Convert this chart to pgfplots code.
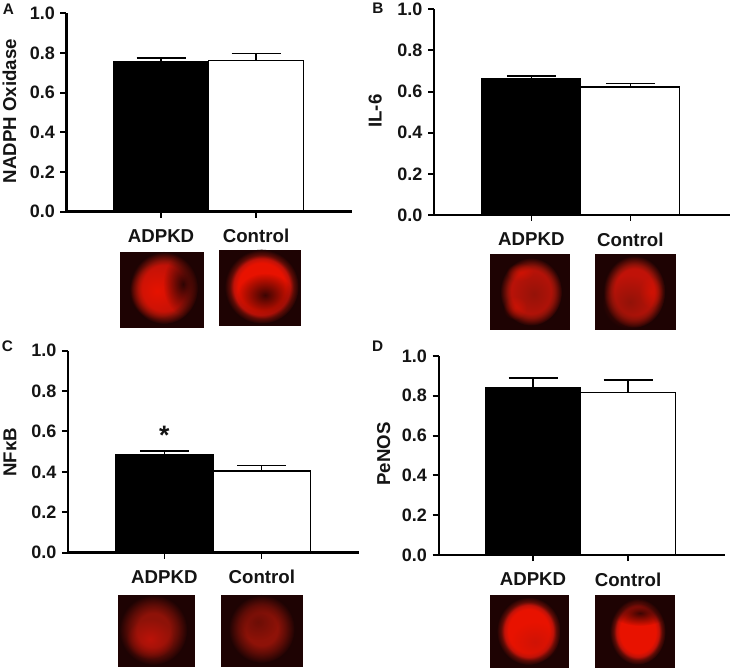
\documentclass[border=0pt]{standalone}
\usepackage{fontspec}
\setmainfont{Liberation Sans}
\usepackage{pgfplots}
\pgfplotsset{compat=1.18}
\usetikzlibrary{fadings}

\newlength\pxu
\setlength\pxu{0.75pt}

\definecolor{cellbg}{HTML}{1E0303}
\definecolor{cellhi}{HTML}{E81200}
\definecolor{cellmid}{HTML}{C01208}
\definecolor{celllow}{HTML}{8E1208}
\definecolor{celldim}{HTML}{5E0C06}
\definecolor{inktext}{HTML}{141414}

\pgfdeclareradialshading{cellbright}{\pgfpointorigin}{color(0bp)=(cellhi); color(16bp)=(cellhi); color(19bp)=(cellmid); color(21.5bp)=(celldim); color(25bp)=(cellbg); color(50bp)=(cellbg)}
\pgfdeclareradialshading{cellmedium}{\pgfpointorigin}{color(0bp)=(cellmid); color(16bp)=(cellmid); color(19bp)=(celllow); color(21.5bp)=(celldim); color(25bp)=(cellbg); color(50bp)=(cellbg)}
\pgfdeclareradialshading{cellfaint}{\pgfpointorigin}{color(0bp)=(celllow); color(12bp)=(celllow); color(18bp)=(celldim); color(25bp)=(cellbg); color(50bp)=(cellbg)}
\tikzfading[name=softblob, inner color=transparent!0, outer color=transparent!100]

% one micrograph: dark square, then a shaded cell
\newcommand{\cellbox}[4]{\fill[cellbg] (#1,#2) rectangle (#3,#4);}
\newcommand{\cellbase}[5]{\shade[shading=#1] (#2,#3) ellipse ({#4} and {#5});}
\newcommand{\blob}[6]{\fill[#1, opacity=#2, path fading=softblob] (#3,#4) ellipse ({#5} and {#6});}

\pgfplotsset{
  panel/.style={
    scale only axis,
    anchor=south west,
    ymin=0, ymax=1,
    ytick={0,0.2,0.4,0.6,0.8,1.0},
    xtick={0,1},
    xticklabels={ADPKD,Control},
    axis x line*=bottom,
    axis y line*=left,
    axis line style={-, line width=2.6\pxu, color=black},
    y tick style={line width=2\pxu, color=black},
    x tick style={line width=1.2\pxu, color=black},
    major tick length=6\pxu,
    tick align=outside,
    tick pos=left,
    clip=false,
    axis on top,
    yticklabel style={
      /pgf/number format/assume math mode=true,
      /pgf/number format/fixed,
      /pgf/number format/fixed zerofill,
      /pgf/number format/precision=1,
      font=\fontsize{13.5}{15}\selectfont\bfseries, text=inktext, xshift=-1\pxu},
    xticklabel style={font=\fontsize{14}{15}\selectfont\bfseries, text=inktext, yshift=-7\pxu},
    ylabel style={font=\fontsize{14}{15}\selectfont\bfseries, text=inktext, anchor=center},
    ybar,
    bar shift=0pt,
    error bars/y dir=plus,
    error bars/y explicit,
    error bars/error bar style={line width=1.3\pxu, color=black},
    error bars/error mark options={rotate=90, mark size=24.5\pxu, line width=1.3\pxu, color=black},
  },
  blackbar/.style={fill=black, draw=black, line width=1.2\pxu},
  whitebar/.style={fill=white, draw=black, line width=1.2\pxu},
}

\begin{document}
\begin{tikzpicture}
\useasboundingbox (0,0) rectangle (733\pxu,-670\pxu);

% A
\begin{axis}[panel, at={(66.5\pxu,-211.7\pxu)}, width=285.5\pxu, height=198.4\pxu,
  xmin=-0.995, xmax=2.01, bar width=1,
  ylabel={NADPH Oxidase},
  ylabel style={at={(axis description cs:-0.2,0.507)}}]
\addplot[blackbar] coordinates {(0,0.757) +- (0,0.018)};
\addplot[whitebar] coordinates {(1,0.763) +- (0,0.035)};
\end{axis}

% B
\begin{axis}[panel, at={(434\pxu,-215\pxu)}, width=296\pxu, height=205.7\pxu,
  xmin=-0.983, xmax=2.007, bar width=1,
  ylabel={IL-6},
  ylabel style={at={(axis description cs:-0.199,0.505)}}]
\addplot[blackbar] coordinates {(0,0.661) +- (0,0.015)};
\addplot[whitebar] coordinates {(1,0.622) +- (0,0.018)};
\end{axis}

% C
\begin{axis}[panel, at={(68\pxu,-552.7\pxu)}, width=291.3\pxu, height=202\pxu,
  xmin=-0.989, xmax=2.0, bar width=1,
  ylabel={NFκB},
  ylabel style={at={(axis description cs:-0.199,0.498)}}]
\addplot[blackbar] coordinates {(0,0.487) +- (0,0.016)};
\addplot[whitebar] coordinates {(1,0.404) +- (0,0.027)};
\node[font=\fontsize{20}{20}\selectfont\bfseries, text=inktext] at (axis cs:0,0.58) {*};
\end{axis}

% D
\begin{axis}[panel, at={(438.7\pxu,-555\pxu)}, width=286\pxu, height=199\pxu,
  xmin=-0.993, xmax=2.018, bar width=1,
  axis line style={line width=2.2\pxu},
  ylabel={PeNOS},
  ylabel style={at={(axis description cs:-0.192,0.508)}}]
\addplot[blackbar] coordinates {(0,0.841) +- (0,0.048)};
\addplot[whitebar] coordinates {(1,0.816) +- (0,0.063)};
\end{axis}

\begin{scope}[x=0.75pt, y=-0.75pt]
% panel letters
\begin{scope}[every node/.style={font=\fontsize{11.5}{12}\selectfont\bfseries, text=inktext}]
\node at (8.5,9) {A};
\node at (378,8.3) {B};
\node at (7.5,346.7) {C};
\node at (377.7,346) {D};
\end{scope}

% micrographs, A
\cellbox{119.7}{251.7}{204.3}{328.3}
\cellbase{cellmedium}{164}{288}{34}{36}
\blob{cellhi}{0.95}{157}{291}{28}{28}
\blob{cellbg}{0.9}{183}{284}{20}{30}
\cellbox{219.3}{250}{300.7}{325.7}
\cellbase{cellbright}{261.7}{286.7}{37}{37}
\blob{cellbg}{0.85}{265}{295}{28}{22}

% micrographs, B
\cellbox{490}{254}{570}{330}
\cellbase{cellmedium}{531}{291.7}{31}{34}
\blob{celllow}{0.85}{534}{294}{28}{30}
\blob{cellhi}{0.5}{520}{272}{14}{9}
\blob{cellhi}{0.45}{515}{308}{12}{12}
\cellbox{595.3}{254}{676}{330}
\cellbase{cellmedium}{634.3}{291.7}{31}{36}
\blob{celllow}{0.9}{630}{302}{28}{27}
\blob{cellhi}{0.5}{651}{292}{12}{16}

% micrographs, C
\cellbox{118}{595}{195}{667.3}
\cellbase{cellfaint}{153.3}{630}{34}{35}
\blob{cellmid}{0.9}{150}{639}{24}{20}
\cellbox{220.7}{595}{303.3}{667.3}
\cellbase{cellfaint}{261.7}{629}{33}{34}
\blob{celldim}{0.7}{258}{622}{20}{18}

% micrographs, D
\cellbox{489.7}{595}{568.7}{668.3}
\cellbase{cellbright}{528.7}{631}{32}{34}
\blob{cellmid}{0.6}{535}{642}{24}{20}
\cellbox{594.7}{595}{675}{668.3}
\cellbase{cellbright}{637.7}{631.7}{28}{33}
\blob{cellbg}{0.85}{640}{613}{28}{13}
\end{scope}
\end{tikzpicture}
\end{document}
